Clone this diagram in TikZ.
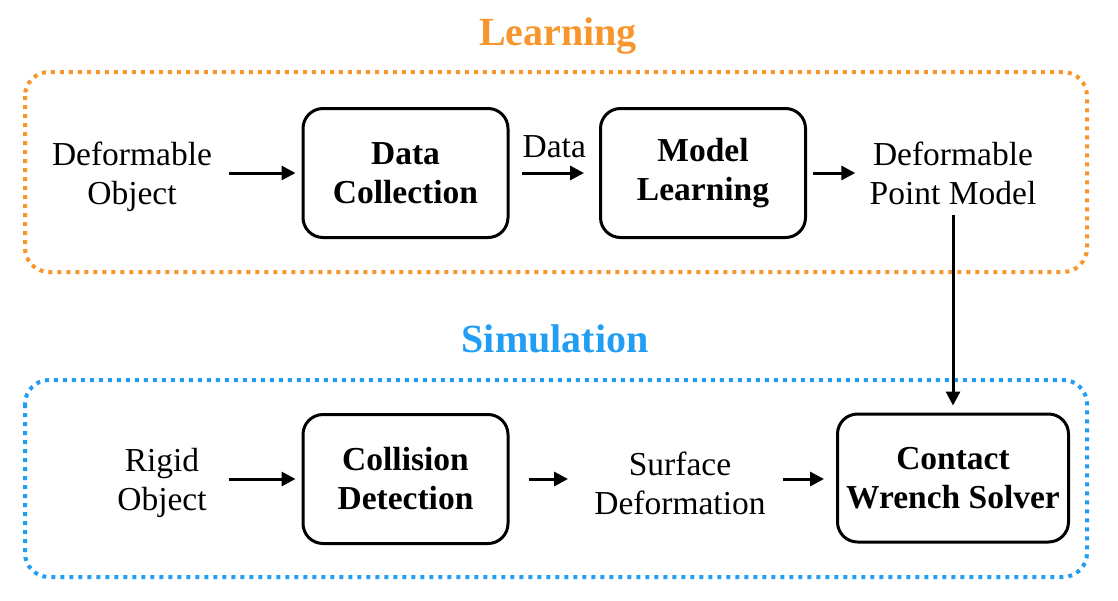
\documentclass[tikz,border=0pt]{standalone}
\usepackage{fontspec}
\setmainfont{Liberation Serif}
\usepackage{tikz}
\usetikzlibrary{arrows.meta,positioning,calc}

\definecolor{learnorange}{RGB}{247,150,45}
\definecolor{simblue}{RGB}{33,158,243}

\begin{document}
\begin{tikzpicture}[
  x=0.5pt, y=-0.5pt,
  font=\fontsize{16.75}{19.5}\selectfont,
  box/.style={draw=black, line width=1.5pt, rounded corners=10pt, align=center,
              minimum width=102.5pt, minimum height=64.5pt, font=\fontsize{16.75}{19.5}\selectfont\bfseries},
  txt/.style={align=center, inner sep=0pt},
  group/.style={line width=2pt, dash pattern=on 2pt off 2.5pt, rounded corners=12pt},
  title/.style={font=\fontsize{20}{24}\selectfont\bfseries},
  arr/.style={-{Triangle[length=7pt, width=7pt]}, line width=1.5pt},
  lbl/.style={inner sep=0pt},
]
\useasboundingbox (0,0) rectangle (1118,600);

% learning stage
\draw[group, learnorange] (25,72) rectangle (1087,272);
\node[title, text=learnorange] (learn) at (558,36) {Learning};
\node[txt] (dobj) at (132,177) {Deformable\\Object};
\node[box] (dc) at (405.5,173) {Data\\Collection};
\node[box] (ml) at (703,173) {Model\\Learning};
\node[txt] (dpm) at (953,173) {Deformable\\Point Model};

\draw[arr, shorten <=8.5pt, shorten >=3pt] (dobj.east |- dc) -- (dc);
\draw[arr, shorten <=6pt, shorten >=7.5pt] (dc) -- node[lbl, above=7pt]{Data} (ml);
\draw[arr, shorten <=3pt, shorten >=7pt] (ml) -- (ml -| dpm.west);

% simulation stage
\draw[group, simblue] (25,380) rectangle (1087,577);
\node[title, text=simblue] (sim) at (555,339) {Simulation};
\node[txt] (robj) at (162,483) {Rigid\\Object};
\node[box] (cd) at (405.5,479) {Collision\\Detection};
\node[txt] (sd) at (680,483) {Surface\\Deformation};
\node[box, minimum width=115.5pt, minimum height=64pt] (cws) at (953,478) {Contact\\Wrench Solver};

\draw[arr, shorten <=11pt, shorten >=3pt] (robj.east |- cd) -- (cd);
\draw[arr, shorten <=9.5pt, shorten >=13pt] (cd) -- (cd -| sd.west);
\draw[arr, shorten <=8.5pt, shorten >=6pt] (sd.east |- cd) -- (cws.west |- cd);

% model handed to the solver
\draw[arr, shorten <=5pt, shorten >=3.5pt] (dpm.south) -- (cws.north);
\end{tikzpicture}
\end{document}
